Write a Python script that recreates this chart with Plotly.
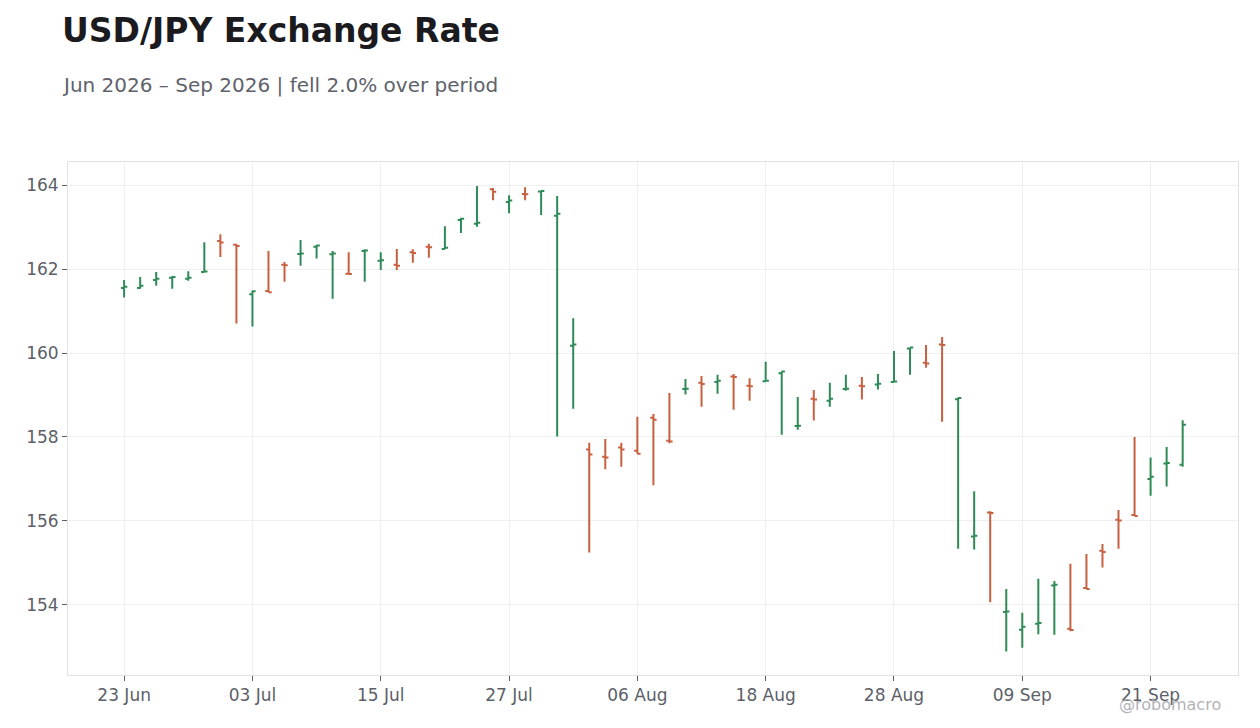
import pandas
import plotly.graph_objects


# trading days shown on the chart (weekdays only)
dates = pandas.bdate_range("2026-06-23", "2026-09-23").strftime("%Y-%m-%d").tolist()

opens = [161.55, 161.55, 161.74, 161.79, 161.77, 161.93, 162.67, 162.58, 161.40, 161.48,
	162.10, 162.36, 162.53, 162.35, 161.89, 162.43, 162.20, 162.10, 162.40, 162.53,
	162.48, 163.17, 163.08, 163.90, 163.60, 163.79, 163.85, 163.27, 160.17, 157.70,
	157.53, 157.75, 157.67, 158.46, 157.91, 159.14, 159.29, 159.31, 159.44, 159.22,
	159.33, 159.52, 158.26, 158.91, 158.86, 159.14, 159.22, 159.25, 159.31, 160.11,
	159.77, 160.20, 158.90, 155.63, 156.20, 153.83, 153.41, 153.55, 154.46, 153.43,
	154.40, 155.29, 156.03, 156.14, 157.00, 157.37, 157.34]

highs = [161.74, 161.81, 161.93, 161.83, 161.95, 162.64, 162.83, 162.60, 161.49, 162.43,
	162.17, 162.69, 162.57, 162.43, 162.40, 162.47, 162.40, 162.48, 162.47, 162.60,
	163.02, 163.22, 163.98, 163.93, 163.76, 163.95, 163.86, 163.74, 160.83, 157.86,
	157.95, 157.86, 158.48, 158.55, 159.05, 159.38, 159.45, 159.48, 159.50, 159.40,
	159.79, 159.56, 158.95, 159.12, 159.29, 159.48, 159.43, 159.50, 160.05, 160.13,
	160.19, 160.38, 158.94, 156.71, 156.23, 154.38, 153.81, 154.62, 154.57, 154.98,
	155.21, 155.45, 156.26, 158.00, 157.51, 157.76, 158.40]

lows = [161.32, 161.53, 161.60, 161.53, 161.72, 161.93, 162.29, 160.70, 160.63, 161.45,
	161.70, 162.08, 162.25, 161.29, 161.88, 161.70, 161.98, 161.98, 162.15, 162.27,
	162.48, 162.86, 163.01, 163.64, 163.33, 163.64, 163.29, 158.01, 158.67, 155.25,
	157.23, 157.29, 157.60, 156.85, 157.85, 159.01, 158.72, 159.03, 158.65, 158.86,
	159.33, 158.05, 158.17, 158.39, 158.72, 159.10, 158.89, 159.13, 159.31, 159.48,
	159.65, 158.36, 155.34, 155.32, 154.06, 152.89, 152.98, 153.30, 153.29, 153.37,
	154.37, 154.89, 155.34, 156.12, 156.60, 156.82, 157.29]

closes = [161.58, 161.60, 161.77, 161.81, 161.79, 161.94, 162.63, 162.55, 161.47, 161.45,
	162.09, 162.37, 162.56, 162.37, 161.88, 162.44, 162.21, 162.08, 162.38, 162.52,
	162.51, 163.20, 163.10, 163.84, 163.63, 163.78, 163.86, 163.32, 160.20, 157.58,
	157.51, 157.70, 157.60, 158.41, 157.89, 159.15, 159.26, 159.34, 159.43, 159.21,
	159.34, 159.56, 158.27, 158.89, 158.91, 159.15, 159.21, 159.27, 159.32, 160.13,
	159.75, 160.19, 158.93, 155.65, 156.19, 153.84, 153.48, 153.57, 154.48, 153.40,
	154.38, 155.26, 156.01, 156.12, 157.05, 157.38, 158.29]

# x tick labels, every 8th trading day
tickdates = dates[::8]
ticklabels = [pandas.Timestamp(d).strftime("%d %b") for d in tickdates]

font_family = "DejaVu Sans"
axis_color = "#5c5f68"
grid_color = "#efefef"
frame_color = "#e2e2e4"

fig = plotly.graph_objects.Figure()
fig.add_trace(plotly.graph_objects.Ohlc(
	x=dates, open=opens, high=highs, low=lows, close=closes,
	increasing=dict(line=dict(color="#2e8b57", width=2)),
	decreasing=dict(line=dict(color="#c8603f", width=2)),
	tickwidth=0.2, showlegend=False))

# the page adds an 8px body margin, so the figure is sized to fit inside it
fig.update_layout(
	width=1244, height=712,
	margin=dict(l=60, r=14, t=154, b=45),
	paper_bgcolor="white", plot_bgcolor="white",
	font=dict(family=font_family, size=17, color=axis_color),
	showlegend=False)

fig.update_xaxes(type="category", range=[-3.5, 69.45],
	tickvals=tickdates, ticktext=ticklabels,
	rangeslider=dict(visible=False),
	showgrid=True, gridcolor=grid_color, gridwidth=1,
	showline=True, linecolor=frame_color, linewidth=1, mirror=True,
	ticks="outside", ticklen=5, tickcolor=axis_color)
fig.update_yaxes(range=[152.33, 164.55], dtick=2, tick0=154,
	showgrid=True, gridcolor=grid_color, gridwidth=1, zeroline=False,
	showline=True, linecolor=frame_color, linewidth=1, mirror=True,
	ticks="outside", ticklen=5, tickcolor=axis_color)

# title, subtitle and watermark
fig.add_annotation(text="<b>USD/JPY Exchange Rate</b>", xref="paper", yref="paper",
	x=-0.007, y=1.257, xanchor="left", yanchor="middle", showarrow=False,
	font=dict(family=font_family, size=33, color="#1b1b1f"))
fig.add_annotation(text="Jun 2026 \u2013 Sep 2026 | fell 2.0% over period", xref="paper", yref="paper",
	x=-0.007, y=1.150, xanchor="left", yanchor="middle", showarrow=False,
	font=dict(family=font_family, size=20, color="#60626b"))
fig.add_annotation(text="@robomacro", xref="paper", yref="paper",
	x=0.942, y=-0.058, xanchor="center", yanchor="middle", showarrow=False,
	font=dict(family=font_family, size=16, color="#b3b3b8"))

fig.write_html("out.html")
